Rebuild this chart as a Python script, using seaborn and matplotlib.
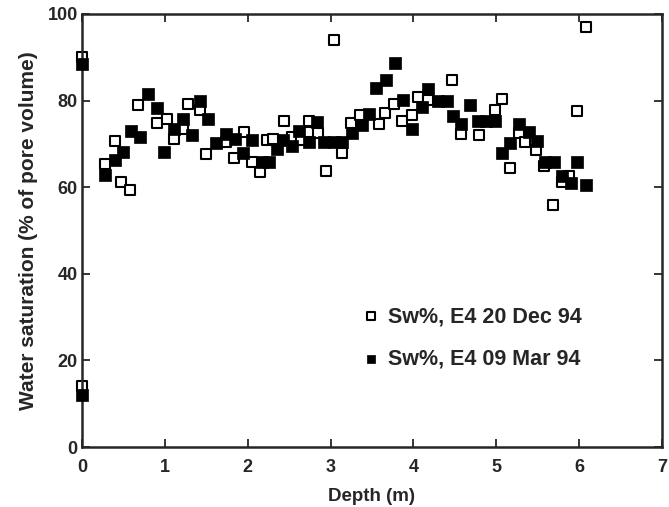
import matplotlib
matplotlib.use("Agg")
import matplotlib.pyplot as plt
import seaborn as sns
import pandas as pd

depth_dec = [0.0, 0.0, 0.28, 0.40, 0.47, 0.58, 0.68, 0.90, 1.03, 1.11, 1.22, 1.28, 1.42, 1.50,
             1.74, 1.83, 1.96, 2.05, 2.15, 2.23, 2.31, 2.44, 2.53, 2.64, 2.74, 2.74, 2.85, 2.95,
             3.04, 3.14, 3.25, 3.35, 3.58, 3.66, 3.76, 3.86, 3.98, 4.05, 4.18, 4.47, 4.58, 4.79,
             4.98, 5.07, 5.17, 5.27, 5.35, 5.48, 5.58, 5.68, 5.79, 5.88, 5.97, 6.08]
sw_dec = [90, 14, 65.3, 70.7, 61.1, 59.3, 79, 74.9, 75.8, 71.2, 73.4, 79.2, 77.8, 67.6,
          70.4, 66.8, 72.8, 65.9, 63.6, 70.8, 71.1, 75.2, 71.6, 70.9, 75.2, 72.8, 72.6, 63.7,
          94, 67.8, 74.8, 76.6, 74.5, 77.1, 79.2, 75.3, 76.6, 80.9, 80.2, 84.7, 72.2, 72,
          77.8, 80.3, 64.5, 72.5, 70.5, 68.5, 64.9, 56, 61.2, 62.6, 77.6, 96.9]

depth_mar = [0.0, 0.0, 0.28, 0.40, 0.49, 0.59, 0.70, 0.80, 0.90, 0.99, 1.11, 1.22, 1.33, 1.42,
             1.52, 1.62, 1.74, 1.85, 1.94, 2.05, 2.17, 2.26, 2.35, 2.42, 2.54, 2.62, 2.74, 2.84,
             2.92, 3.04, 3.14, 3.26, 3.38, 3.46, 3.55, 3.67, 3.78, 3.87, 3.98, 4.10, 4.18, 4.30,
             4.40, 4.48, 4.58, 4.68, 4.78, 4.88, 4.98, 5.07, 5.17, 5.27, 5.39, 5.49, 5.59, 5.70,
             5.79, 5.90, 5.98, 6.08]
sw_mar = [88.5, 12, 62.8, 66.3, 68.1, 73, 71.7, 81.5, 78.2, 68.1, 73.5, 75.7, 72, 79.9,
          75.7, 70.1, 72.4, 71.1, 67.8, 70.9, 65.9, 65.9, 68.8, 70.8, 69.4, 73, 70.5, 75.1,
          70.5, 70.5, 70.5, 72.6, 74.3, 76.8, 82.9, 84.7, 88.7, 80.2, 73.5, 78.5, 82.6, 80,
          80, 76.5, 74.5, 78.9, 75.3, 75.3, 75.2, 68, 70.3, 74.5, 72.8, 70.7, 65.8, 65.8,
          62.6, 61, 65.9, 60.5]

label_dec = "Sw%, E4 20 Dec 94"
label_mar = "Sw%, E4 09 Mar 94"

sns.set_style("ticks")
plt.rcParams['font.family'] = ['Liberation Sans', 'DejaVu Sans']
plt.rcParams['font.weight'] = 'bold'

fig = plt.figure(figsize=(6.69, 5.07), dpi=100)
ax = fig.add_axes([82/669, 1-447/507, 580/669, 433/507])

df_dec = pd.DataFrame({"Depth": depth_dec, "Sw": sw_dec})
df_mar = pd.DataFrame({"Depth": depth_mar, "Sw": sw_mar})

sns.scatterplot(data=df_mar, x="Depth", y="Sw", marker="s", s=66, color="black",
                edgecolor="black", linewidth=0.5, ax=ax, label=label_mar, clip_on=False, zorder=3)
sns.scatterplot(data=df_dec, x="Depth", y="Sw", marker="s", s=62, facecolor="white",
                edgecolor="black", linewidth=1.5, ax=ax, label=label_dec, clip_on=False, zorder=2)

ax.set_xlim(0, 7)
ax.set_ylim(0, 100)
ax.set_xticks(range(0, 8))
ax.set_yticks(range(0, 101, 20))
ax.set_xlabel("Depth (m)", fontsize=13.5, fontweight='bold', labelpad=8)
ax.set_ylabel("Water saturation (% of pore volume)", fontsize=15, fontweight='bold', labelpad=7)
ax.tick_params(axis='both', direction='in', top=True, right=True, length=6, width=1.3, labelsize=13)
ax.tick_params(axis='x', pad=9)
ax.tick_params(axis='y', pad=3)
for lbl in ax.get_xticklabels() + ax.get_yticklabels():
    lbl.set_fontweight('bold')
for sp in ax.spines.values():
    sp.set_linewidth(1.8)
    sp.set_visible(True)

handles, labels = ax.get_legend_handles_labels()
order = [labels.index(label_dec), labels.index(label_mar)]
leg = ax.legend([handles[i] for i in order], [labels[i] for i in order],
                loc='upper left', bbox_to_anchor=(362/669, 1-306/507),
                bbox_transform=fig.transFigure, frameon=False, borderpad=0,
                borderaxespad=0, prop={'size': 15.5, 'weight': 'bold'}, labelspacing=1.0,
                handlelength=0.8, handletextpad=0.4, markerscale=0.65)

fig.savefig("out.png", dpi=100)
